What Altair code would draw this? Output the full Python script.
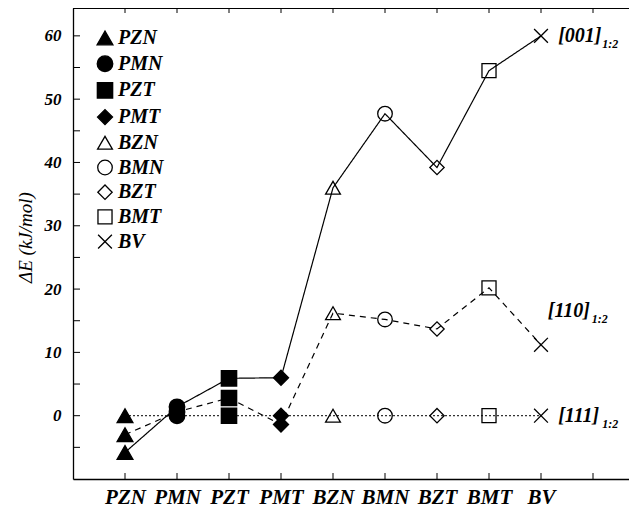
import altair as alt
import pandas as pd

MATERIALS = ["PZN", "PMN", "PZT", "PMT", "BZN", "BMN", "BZT", "BMT", "BV"]
SERIES = ["[001]", "[110]", "[111]"]
E001 = [-5.8, 1.4, 5.9, 6.0, 36.0, 47.7, 39.2, 54.5, 60.0]
E110 = [-3.0, 0.6, 2.8, -1.4, 16.2, 15.2, 13.7, 20.2, 11.2]
E111 = [0.0, 0.0, 0.0, 0.0, 0.0, 0.0, 0.0, 0.0, 0.0]
SERIES_VALUES = [E001, E110, E111]

SHAPES = ["triangle-up", "circle", "square", "diamond", "triangle-up",
          "circle", "diamond", "square", "M-1,-1L1,1M-1,1L1,-1"]
FILLS = ["black"] * 4 + ["transparent"] * 5
STROKES = ["black"] * 9
SIZES = [250, 190, 130, 190, 250, 340, 140, 140, 120]
DASHES = [[1, 0], [6, 5], [2, 2]]
COLORS = ["black", "black", "#333333"]
WIDTHS = [1.2, 1.2, 2.2]

LABEL_X = [9.33, 9.13, 9.33]
LABEL_Y = [60.0, 16.6, 0.0]

YTICKS = [-5, 0, 5, 10, 15, 20, 25, 30, 35, 40, 45, 50, 55, 60]
YLABELS = [0, 10, 20, 30, 40, 50, 60]
XTICKS = [1, 2, 3, 4, 5, 6, 7, 8, 9, 10]

W, H = 556, 471
XMAX = W / 52.0
FONT = "Liberation Serif"

rows = []
for s, vals in zip(SERIES, SERIES_VALUES):
    for i, (m, v) in enumerate(zip(MATERIALS, vals)):
        rows.append({"series": s, "mat": m, "x": i + 1, "y": v})
df = pd.DataFrame(rows)
lab_df = pd.DataFrame({"series": SERIES, "x": LABEL_X, "y": LABEL_Y, "sub": ["1:2"] * 3})
ytick_df = pd.DataFrame({"y": YTICKS})
xtick_df = pd.DataFrame({"x": XTICKS})

names_js = "[" + ",".join("'" + m + "'" for m in MATERIALS) + "]"
xscale = alt.Scale(domain=[0, XMAX], nice=False, zero=False)
yscale = alt.Scale(domain=[-10, 64.4], nice=False, zero=False)
xaxis = alt.Axis(values=XTICKS, ticks=False, grid=False, title=None,
                 labelExpr=f"datum.value >= 1 && datum.value <= 9 ? {names_js}[datum.value - 1] : ''",
                 labelFont=FONT, labelFontSize=21, labelFontStyle="italic", labelFontWeight="bold",
                 labelPadding=7, labelColor="black", domainColor="black", domainWidth=1.3,
                 labelFlush=False, labelOverlap=False)
yaxis = alt.Axis(values=YLABELS, ticks=False, grid=False, title="ΔE (kJ/mol)",
                 titleFont=FONT, titleFontSize=19, titleFontStyle="italic", titleFontWeight="normal",
                 titlePadding=9, titleColor="black", titleY=229,
                 labelFont=FONT, labelFontSize=17, labelFontStyle="italic", labelFontWeight="bold",
                 labelPadding=12, labelColor="black", domainColor="black", domainWidth=1.3)

X = alt.X("x:Q", scale=xscale, axis=xaxis)
Y = alt.Y("y:Q", scale=yscale, axis=yaxis)

lines = alt.Chart(df).mark_line().encode(
    x=X, y=Y, detail="series:N",
    strokeDash=alt.StrokeDash("series:N", scale=alt.Scale(domain=SERIES, range=DASHES), legend=None),
    color=alt.Color("series:N", scale=alt.Scale(domain=SERIES, range=COLORS), legend=None),
    strokeWidth=alt.StrokeWidth("series:N", scale=alt.Scale(domain=SERIES, range=WIDTHS), legend=None),
)

leg = alt.Legend(title=None, orient="none", legendX=22, legendY=20,
                 labelFont=FONT, labelFontSize=20, labelFontStyle="italic", labelFontWeight="bold",
                 labelColor="black", symbolStrokeWidth=1.3,
                 rowPadding=4.7, labelOffset=3)
points = alt.Chart(df).mark_point(filled=True, strokeWidth=1.3, opacity=1).encode(
    x=X, y=Y,
    shape=alt.Shape("mat:N", scale=alt.Scale(domain=MATERIALS, range=SHAPES), legend=leg, sort=MATERIALS),
    fill=alt.Fill("mat:N", scale=alt.Scale(domain=MATERIALS, range=FILLS), legend=leg, sort=MATERIALS),
    stroke=alt.Stroke("mat:N", scale=alt.Scale(domain=MATERIALS, range=STROKES), legend=leg, sort=MATERIALS),
    size=alt.Size("mat:N", scale=alt.Scale(domain=MATERIALS, range=SIZES), legend=leg, sort=MATERIALS),
)

main_text = alt.Chart(lab_df).mark_text(
    align="left", baseline="middle", font=FONT, fontSize=20, fontStyle="italic",
    fontWeight="bold", color="black").encode(x=X, y=Y, text="series:N")
sub_text = alt.Chart(lab_df).mark_text(
    align="left", baseline="middle", font=FONT, fontSize=12, fontStyle="italic",
    fontWeight="bold", color="black", dx=44, dy=8).encode(x=X, y=Y, text="sub:N")

yt = alt.Chart(ytick_df).mark_rule(color="black", strokeWidth=1).encode(
    y=Y, x=alt.value(0), x2=alt.value(7))
xb = alt.Chart(xtick_df).mark_rule(color="black", strokeWidth=1).encode(
    x=X, y=alt.value(H), y2=alt.value(H - 6))
xt = alt.Chart(xtick_df).mark_rule(color="black", strokeWidth=1).encode(
    x=X, y=alt.value(0), y2=alt.value(5))
top = alt.Chart(xtick_df).mark_rule(color="black", strokeWidth=1.3).encode(
    x=alt.value(0), x2=alt.value(W), y=alt.value(0))

chart = alt.layer(lines, points, main_text, sub_text, yt, xb, xt, top).properties(
    width=W, height=H,
    autosize=alt.AutoSizeParams(type="none"),
    padding={"left": 65, "top": 0, "right": 0, "bottom": 30},
).configure_view(stroke=None).configure(background="white")

chart.save("out.html", embed_options={"renderer": "svg", "actions": False})
